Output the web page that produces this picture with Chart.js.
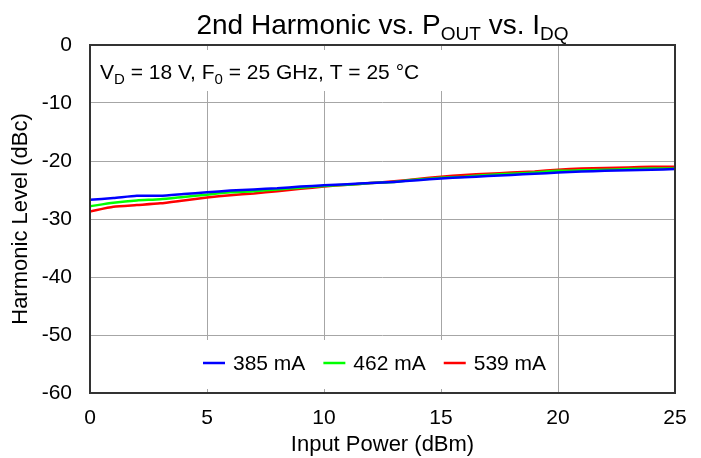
<!DOCTYPE html>
<html>
<head>
<meta charset="utf-8">
<script src="https://cdn.jsdelivr.net/npm/chart.js@4.4.1/dist/chart.umd.min.js"></script>
<style>
html,body{margin:0;padding:0;background:#fff;}
#wrap{width:701px;height:458px;position:relative;}
</style>
</head>
<body>
<div id="wrap"><canvas id="c" width="701" height="458"></canvas></div>
<script>
const inputPower = [0,1,2,3,4,5,6,7,8,9,10,11,12,13,14,15,16,17,18,19,20,21,22,23,24,25];
const seriesLabels = ['385 mA','462 mA','539 mA'];
const idq385 = [-26.7,-26.4,-26.0,-26.0,-25.7,-25.4,-25.1,-24.9,-24.7,-24.4,-24.2,-24.0,-23.8,-23.6,-23.3,-23.0,-22.8,-22.6,-22.4,-22.2,-22.0,-21.8,-21.7,-21.6,-21.5,-21.4];
const idq462 = [-27.8,-27.2,-26.8,-26.6,-26.2,-25.8,-25.4,-25.2,-24.9,-24.6,-24.3,-24.1,-23.8,-23.6,-23.2,-22.9,-22.7,-22.4,-22.2,-22.0,-21.7,-21.6,-21.5,-21.4,-21.3,-21.3];
const idq539 = [-28.7,-27.9,-27.6,-27.3,-26.8,-26.3,-25.9,-25.6,-25.2,-24.8,-24.4,-24.1,-23.8,-23.5,-23.1,-22.7,-22.4,-22.2,-22.0,-21.8,-21.5,-21.3,-21.2,-21.1,-21.0,-21.0];
const seriesColors = ['#0000ff','#00ff00','#ff0000'];
const FONT = 'Arial, "Liberation Sans", sans-serif';

function pts(arr){ return inputPower.map((x,i)=>({x:x,y:arr[i]})); }

const decor = {
  id:'decor',
  beforeDatasetsDraw(chart){
    const ctx = chart.ctx, a = chart.chartArea;
    ctx.save();
    ctx.fillStyle = '#ffffff';
    ctx.fillRect(a.left+2, a.top+5, 445, 41);
    ctx.fillRect(190, a.bottom-53, 358, 49);
    ctx.restore();
  },
  afterDatasetsDraw(chart){
    const ctx = chart.ctx, a = chart.chartArea;
    ctx.save();
    ctx.strokeStyle = '#333333';
    ctx.lineWidth = 2;
    ctx.strokeRect(a.left, a.top, a.right-a.left, a.bottom-a.top);
    ctx.fillStyle = '#000';
    ctx.textBaseline = 'alphabetic';
    const parts = [['2nd Harmonic vs. P',28,0],['OUT',19,6],[' vs. I',28,0],['DQ',19,6]];
    let total = 0;
    parts.forEach(p=>{ ctx.font = p[1]+'px '+FONT; total += ctx.measureText(p[0]).width; });
    let x = (a.left+a.right)/2 - total/2;
    const by = 34;
    parts.forEach(p=>{ ctx.font = p[1]+'px '+FONT; ctx.fillText(p[0], x, by+p[2]); x += ctx.measureText(p[0]).width; });
    const ann = [['V',21,0],['D',15,5],[' = 18 V, F',21,0],['0',15,5],[' = 25 GHz, T = 25 °C',21,0]];
    x = a.left + 10;
    const ay = 79;
    ann.forEach(p=>{ ctx.font = p[1]+'px '+FONT; ctx.fillText(p[0], x, ay+p[2]); x += ctx.measureText(p[0]).width; });
    ctx.font = '21px ' + FONT;
    ctx.textBaseline = 'middle';
    const ly = 363;
    let lx = 203;
    chart.data.datasets.forEach((ds,i)=>{
      ctx.strokeStyle = ds.borderColor;
      ctx.lineWidth = 2.5;
      ctx.beginPath(); ctx.moveTo(lx, ly); ctx.lineTo(lx+22, ly); ctx.stroke();
      ctx.fillStyle = '#000';
      ctx.fillText(ds.label, lx+30, ly+1);
      lx += 30 + ctx.measureText(ds.label).width + 18;
    });
    ctx.restore();
  }
};

new Chart(document.getElementById('c'), {
  type:'line',
  data:{
    datasets:[
      {label:seriesLabels[0], data:pts(idq385), borderColor:seriesColors[0], backgroundColor:seriesColors[0], borderWidth:2.5, pointRadius:0, tension:0.2},
      {label:seriesLabels[1], data:pts(idq462), borderColor:seriesColors[1], backgroundColor:seriesColors[1], borderWidth:2.5, pointRadius:0, tension:0.2},
      {label:seriesLabels[2], data:pts(idq539), borderColor:seriesColors[2], backgroundColor:seriesColors[2], borderWidth:2.5, pointRadius:0, tension:0.2}
    ]
  },
  options:{
    responsive:false,
    animation:false,
    layout:{padding:{left:0,right:26,top:45,bottom:0}},
    plugins:{legend:{display:false}, title:{display:false}, tooltip:{enabled:false}},
    scales:{
      x:{
        type:'linear', min:0, max:25,
        ticks:{stepSize:5, color:'#000', font:{family:FONT,size:21}, padding:13, maxRotation:0},
        grid:{color:'#a6a6a6', lineWidth:1, drawTicks:false},
        border:{display:false},
        title:{display:true, text:'Input Power (dBm)', color:'#000', font:{family:FONT,size:22}, padding:{top:0,bottom:0}},
        afterFit(s){ s.height = 65; }
      },
      y:{
        min:-60, max:0,
        ticks:{stepSize:10, color:'#000', font:{family:FONT,size:21}, padding:18},
        grid:{color:'#a6a6a6', lineWidth:1, drawTicks:false},
        border:{display:false},
        title:{display:true, text:'Harmonic Level (dBc)', color:'#000', font:{family:FONT,size:22}, padding:{top:8,bottom:0}},
        afterFit(s){ s.width = 90; }
      }
    }
  },
  plugins:[decor]
});
</script>
</body>
</html>
